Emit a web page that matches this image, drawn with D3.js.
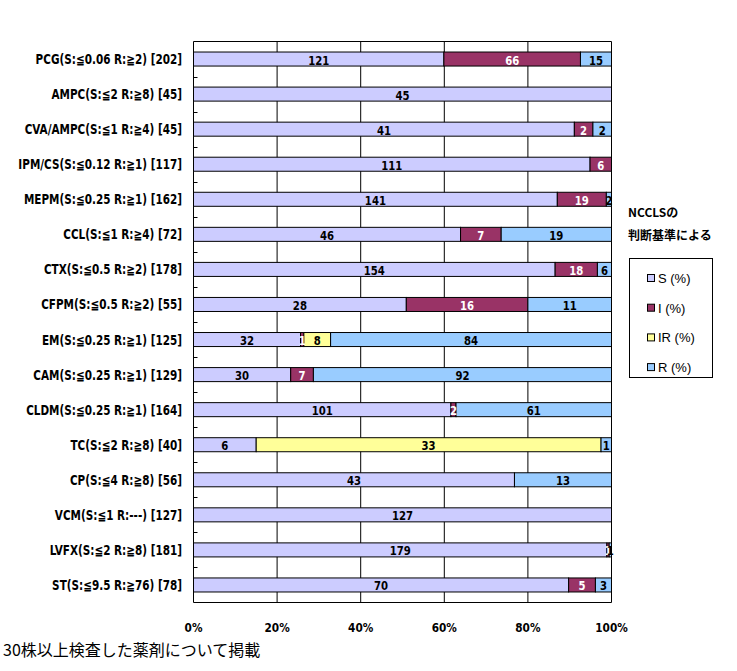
<!DOCTYPE html>
<html>
<head>
<meta charset="utf-8">
<script src="https://cdn.jsdelivr.net/npm/d3@7"></script>
<style>
  body { margin: 0; background: #fff; }
  svg { display: block; }
</style>
</head>
<body>
<script>
// drug categories (top to bottom)
var categories = [
  "PCG(S:≦0.06 R:≧2) [202]",
  "AMPC(S:≦2 R:≧8) [45]",
  "CVA/AMPC(S:≦1 R:≧4) [45]",
  "IPM/CS(S:≦0.12 R:≧1) [117]",
  "MEPM(S:≦0.25 R:≧1) [162]",
  "CCL(S:≦1 R:≧4) [72]",
  "CTX(S:≦0.5 R:≧2) [178]",
  "CFPM(S:≦0.5 R:≧2) [55]",
  "EM(S:≦0.25 R:≧1) [125]",
  "CAM(S:≦0.25 R:≧1) [129]",
  "CLDM(S:≦0.25 R:≧1) [164]",
  "TC(S:≦2 R:≧8) [40]",
  "CP(S:≦4 R:≧8) [56]",
  "VCM(S:≦1 R:---) [127]",
  "LVFX(S:≦2 R:≧8) [181]",
  "ST(S:≦9.5 R:≧76) [78]"
];

// counts per series
var sValues  = [121, 45, 41, 111, 141, 46, 154, 28, 32, 30, 101, 6, 43, 127, 179, 70];
var iValues  = [66, 0, 2, 6, 19, 7, 18, 16, 1, 7, 2, 0, 0, 0, 1, 5];
var irValues = [0, 0, 0, 0, 0, 0, 0, 0, 8, 0, 0, 33, 0, 0, 0, 0];
var rValues  = [15, 0, 2, 0, 2, 19, 6, 11, 84, 92, 61, 1, 13, 0, 1, 3];

var seriesNames = ["S (%)", "I (%)", "IR (%)", "R (%)"];
var seriesKeys = ["S", "I", "IR", "R"];
var seriesColors = ["#ccccff", "#993366", "#ffff99", "#99ccff"];
var labelColors = ["#000", "#fff", "#000", "#000"];
var xTicks = [0, 0.2, 0.4, 0.6, 0.8, 1];

var w = 737, h = 671;
// note: "top" is reserved on window, so use plot* names
var plotLeft = 193.5, plotRight = 611.5, plotTop = 41.5, plotBottom = 602.5;

var svg = d3.select("body").append("svg")
  .attr("width", w)
  .attr("height", h);

// build rows for the stack
var rows = categories.map(function(c, i) {
  return { cat: c, S: sValues[i], I: iValues[i], IR: irValues[i], R: rValues[i] };
});

var stack = d3.stack().keys(seriesKeys).offset(d3.stackOffsetExpand);
var layers = stack(rows);

var x = d3.scaleLinear().domain([0, 1]).range([plotLeft, plotRight]);
var y = d3.scaleBand().domain(categories).range([plotTop, plotBottom]).paddingInner(0.6).paddingOuter(0.3);

var narrow = "'DejaVu Sans Condensed', 'Liberation Sans Narrow', Arial, sans-serif";

// vertical gridlines
svg.append("g").selectAll("line")
  .data(xTicks)
  .enter()
  .append("line")
  .attr("x1", function(d) { return x(d); })
  .attr("x2", function(d) { return x(d); })
  .attr("y1", plotTop)
  .attr("y2", plotBottom)
  .attr("stroke", "#000")
  .attr("stroke-width", 1);

// plot frame top / bottom
svg.append("line").attr("x1", plotLeft).attr("x2", plotRight).attr("y1", plotTop).attr("y2", plotTop).attr("stroke", "#000");
svg.append("line").attr("x1", plotLeft).attr("x2", plotRight).attr("y1", plotBottom).attr("y2", plotBottom).attr("stroke", "#000");

// category ticks at band boundaries
var step = y.step();
svg.append("g").selectAll("line")
  .data(categories.slice(0, -1))
  .enter()
  .append("line")
  .attr("x1", plotLeft)
  .attr("x2", plotLeft + 4)
  .attr("y1", function(d) { return Math.round(y(d) - step * 0.3 + step) + 0.5; })
  .attr("y2", function(d) { return Math.round(y(d) - step * 0.3 + step) + 0.5; })
  .attr("stroke", "#000");

// bars
var layer = svg.append("g").selectAll("g")
  .data(layers)
  .enter()
  .append("g")
  .attr("fill", function(d, i) { return seriesColors[i]; });

layer.selectAll("rect")
  .data(function(d) { return d.filter(function(p) { return p[1] - p[0] > 0; }); })
  .enter()
  .append("rect")
  .attr("x", function(d) { return x(d[0]); })
  .attr("y", function(d) { return y(d.data.cat); })
  .attr("width", function(d) { return x(d[1]) - x(d[0]); })
  .attr("height", y.bandwidth())
  .attr("stroke", "#000")
  .attr("stroke-width", 1);

// value labels
layers.forEach(function(l, si) {
  svg.append("g").selectAll("text")
    .data(l.filter(function(p) { return p[1] - p[0] > 0; }))
    .enter()
    .append("text")
    .attr("transform", function(d) {
      return "translate(" + ((x(d[0]) + x(d[1])) / 2) + "," + (y(d.data.cat) + y.bandwidth() / 2 + 5.5) + ") scale(0.9,1)";
    })
    .attr("text-anchor", "middle")
    .attr("font-family", narrow)
    .attr("font-weight", "bold")
    .attr("font-size", 12.5)
    .attr("fill", labelColors[si])
    .text(function(d) { return d.data[seriesKeys[si]]; });
});

// category labels (squeezed horizontally like the original bold narrow face)
svg.append("g").selectAll("text")
  .data(categories)
  .enter()
  .append("text")
  .attr("transform", function(d) {
    return "translate(182," + (y(d) + y.bandwidth() / 2 + 5) + ") scale(0.86,1)";
  })
  .attr("text-anchor", "end")
  .attr("font-family", narrow)
  .attr("font-weight", "bold")
  .attr("font-size", 13.5)
  .text(function(d) { return d; });

// x axis labels
svg.append("g").selectAll("text")
  .data(xTicks)
  .enter()
  .append("text")
  .attr("transform", function(d) { return "translate(" + x(d) + ",632) scale(0.9,1)"; })
  .attr("text-anchor", "middle")
  .attr("font-family", narrow)
  .attr("font-weight", "bold")
  .attr("font-size", 13)
  .text(d3.format(".0%"));

// legend title
svg.append("text").attr("x", 628).attr("y", 217)
  .attr("font-family", "'Noto Sans CJK JP', sans-serif").attr("font-weight", "bold").attr("font-size", 12)
  .text("NCCLSの");
svg.append("text").attr("x", 628).attr("y", 240)
  .attr("font-family", "'Noto Sans CJK JP', sans-serif").attr("font-weight", "bold").attr("font-size", 12)
  .text("判断基準による");

// legend box
svg.append("rect")
  .attr("x", 629.5).attr("y", 258.5)
  .attr("width", 83).attr("height", 119)
  .attr("fill", "#fff").attr("stroke", "#000");

var leg = svg.append("g").selectAll("g")
  .data(seriesNames)
  .enter()
  .append("g")
  .attr("transform", function(d, i) { return "translate(647," + (274 + i * 29.7) + ")"; });

leg.append("rect")
  .attr("x", 0.5).attr("y", 0.5)
  .attr("width", 7).attr("height", 7)
  .attr("fill", function(d, i) { return seriesColors[i]; })
  .attr("stroke", "#000");

leg.append("text")
  .attr("x", 11)
  .attr("y", 9)
  .attr("font-family", "Arial, 'Liberation Sans', sans-serif")
  .attr("font-size", 13)
  .text(function(d) { return d; });

// footnote
svg.append("text").attr("x", 3).attr("y", 656)
  .attr("font-family", "'Noto Sans CJK JP', sans-serif").attr("font-size", 16)
  .text("30株以上検査した薬剤について掲載");
</script>
</body>
</html>
